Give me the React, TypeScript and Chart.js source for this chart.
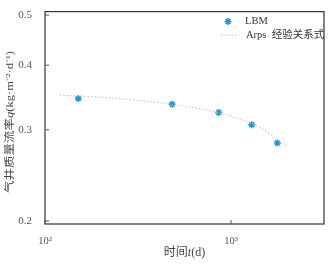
import React, { useEffect, useRef } from 'react';
import { Chart, registerables } from 'chart.js';
Chart.register(...registerables);

const lbmTime = [151, 483, 859, 1292, 1774];
const lbmRate = [0.345, 0.336, 0.324, 0.307, 0.283];
const arpsTime = [120, 182, 275, 415, 627, 948, 1432, 2024];
const arpsRate = [0.35, 0.3475, 0.3437, 0.3385, 0.3311, 0.3206, 0.3031, 0.2776];
const yTicks = [0.2, 0.3, 0.4, 0.5];
const yTickLabels = ['0.2', '0.3', '0.4', '0.5'];
const xTicks = [100, 1000];
const xTickLabels = ['10²', '10³'];
const seriesNames = ['LBM', 'Arps  经验关系式'];

const SERIF = '"Liberation Serif", "Noto Sans CJK SC", serif';
const BLUE = '#1b96d8';
const PINK = '#f3aaa2';

const decor = {
  id: 'decor',
  afterDraw(chart: any) {
    const { ctx, chartArea: a, scales } = chart;
    ctx.save();
    // box
    ctx.strokeStyle = '#333';
    ctx.lineWidth = 1.2;
    ctx.strokeRect(a.left, a.top, a.right - a.left, a.bottom - a.top);
    // inward ticks
    ctx.lineWidth = 1;
    ctx.strokeStyle = '#555';
    yTicks.forEach((v) => {
      const y = scales.y.getPixelForValue(v);
      ctx.beginPath();
      ctx.moveTo(a.left, y);
      ctx.lineTo(a.left + 4, y);
      ctx.stroke();
    });
    xTicks.forEach((v) => {
      const x = scales.x.getPixelForValue(v);
      ctx.beginPath();
      ctx.moveTo(x, a.bottom);
      ctx.lineTo(x, a.bottom - 4);
      ctx.stroke();
    });
    // titles
    ctx.fillStyle = '#444';
    ctx.textBaseline = 'middle';
    const drawSegs = (segs: [string, string][], cx: number, cy: number, rot: boolean, sy: number) => {
      let total = 0;
      const widths = segs.map(([t, f]) => {
        ctx.font = f;
        const w = ctx.measureText(t).width;
        total += w;
        return w;
      });
      ctx.save();
      ctx.translate(cx, cy);
      if (rot) ctx.rotate(-Math.PI / 2);
      ctx.scale(1, sy);
      let x = -total / 2;
      ctx.textAlign = 'left';
      segs.forEach(([t, f], i) => {
        ctx.font = f;
        ctx.fillText(t, x, 0);
        x += widths[i];
      });
      ctx.restore();
    };
    const f = '12.5px ' + SERIF;
    const fi = 'italic 12.5px ' + SERIF;
    drawSegs([['气井质量流率', f], ['q', fi], ['(kg·m⁻²·d⁻¹)', f]], 10, 122, true, 0.8);
    const g = '12px ' + SERIF;
    const gi = 'italic 12px ' + SERIF;
    drawSegs([['时间', g], ['t', gi], ['(d)', g]], (a.left + a.right) / 2, 253, false, 1);
    // legend
    ctx.font = '10.5px ' + SERIF;
    ctx.textAlign = 'left';
    ctx.fillStyle = '#333';
    const mx = 228, my = 21.5, r = 3.5;
    ctx.strokeStyle = BLUE;
    ctx.lineWidth = 1.5;
    ctx.beginPath();
    for (let k = 0; k < 4; k++) {
      const ang = (k * Math.PI) / 4;
      ctx.moveTo(mx - r * Math.cos(ang), my - r * Math.sin(ang));
      ctx.lineTo(mx + r * Math.cos(ang), my + r * Math.sin(ang));
    }
    ctx.stroke();
    ctx.fillText(seriesNames[0], 245, 21.5);
    ctx.strokeStyle = PINK;
    ctx.lineWidth = 1;
    ctx.setLineDash([1.5, 2]);
    ctx.beginPath();
    ctx.moveTo(221, 35);
    ctx.lineTo(239, 35);
    ctx.stroke();
    ctx.setLineDash([]);
    ctx.fillText(seriesNames[1], 246, 35);
    ctx.restore();
  },
};

export default function App() {
  const ref = useRef<HTMLCanvasElement>(null);
  useEffect(() => {
    document.body.style.margin = '0';
    const chart = new Chart(ref.current!, {
      type: 'scatter',
      data: {
        datasets: [
          {
            type: 'line',
            label: seriesNames[1],
            data: arpsTime.map((t, i) => ({ x: t, y: arpsRate[i] })),
            borderColor: PINK,
            borderWidth: 1,
            borderDash: [1.5, 2],
            pointRadius: 0,
            cubicInterpolationMode: 'monotone',
            fill: false,
          } as any,
          {
            label: seriesNames[0],
            data: lbmTime.map((t, i) => ({ x: t, y: lbmRate[i] })),
            pointStyle: 'star',
            pointRadius: 3.5,
            borderWidth: 1.5,
            borderColor: BLUE,
            backgroundColor: BLUE,
          },
        ],
      },
      options: {
        animation: false,
        responsive: false,
        layout: { padding: { top: 9, right: 7, left: 0, bottom: 0 } },
        plugins: { legend: { display: false }, tooltip: { enabled: false } },
        scales: {
          x: {
            type: 'logarithmic',
            min: 100,
            max: 3162,
            grid: { display: false },
            border: { display: false },
            afterBuildTicks: (s: any) => {
              s.ticks = xTicks.map((v) => ({ value: v }));
            },
            afterFit: (s: any) => {
              s.height = 41;
            },
            ticks: {
              autoSkip: false,
              maxRotation: 0,
              padding: 3,
              color: '#555',
              font: { family: SERIF, size: 10.5 },
              callback: (v: any) => xTickLabels[xTicks.indexOf(Number(v))] ?? '',
            },
          },
          y: {
            type: 'logarithmic',
            min: 0.1973,
            max: 0.5077,
            grid: { display: false },
            border: { display: false },
            afterBuildTicks: (s: any) => {
              s.ticks = yTicks.map((v) => ({ value: v }));
            },
            afterFit: (s: any) => {
              s.width = 45;
            },
            ticks: {
              autoSkip: false,
              padding: 5,
              color: '#555',
              font: { family: SERIF, size: 11 },
              callback: (v: any) => {
                const i = yTicks.findIndex((t) => Math.abs(t - Number(v)) < 1e-6);
                return i >= 0 ? yTickLabels[i] : '';
              },
            },
          },
        },
      },
      plugins: [decor],
    });
    return () => chart.destroy();
  }, []);
  return (
    <div style={{ width: 331, height: 265 }}>
      <canvas ref={ref} width={331} height={265} style={{ width: 331, height: 265, display: 'block' }} />
    </div>
  );
}
